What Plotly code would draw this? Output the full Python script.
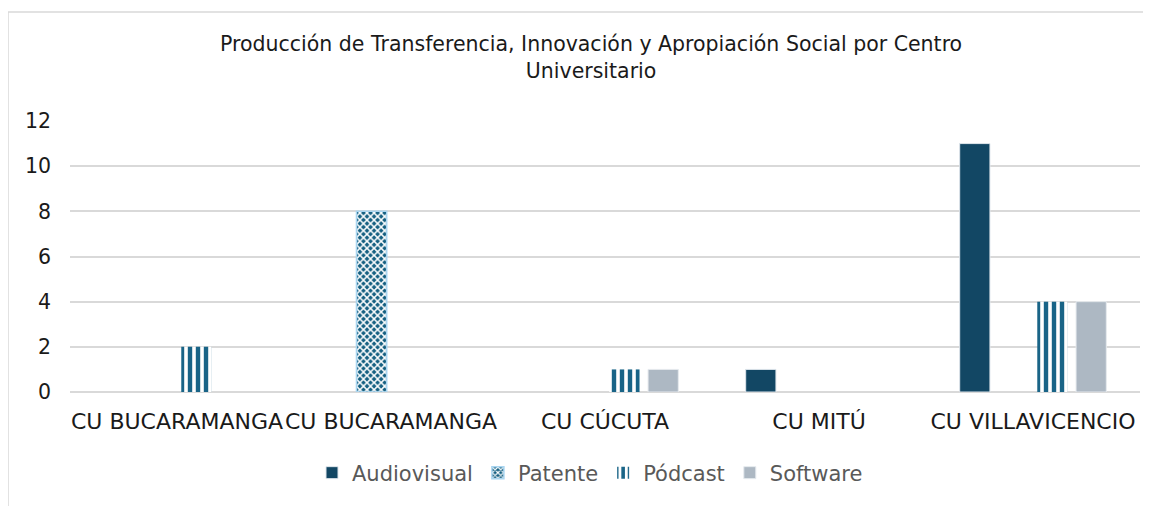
import plotly.graph_objects as go

categories = ["CU BUCARAMANGA", "CU BUCARAMANGA", "CU CÚCUTA", "CU MITÚ", "CU VILLAVICENCIO"]
audiovisual = [None, None, None, 1, 11]
patente = [None, 8, None, None, None]
podcast = [2, None, 1, None, 4]
software = [None, None, 1, None, 4]
y_ticks = [0, 2, 4, 6, 8, 10, 12]
title_lines = ["Producción de Transferencia, Innovación y Apropiación Social por Centro", "Universitario"]

FONT = "DejaVu Sans, Verdana, sans-serif"
OFF = 8  # page body margin
W, H = 1151, 506
# plot area in page pixels
PL, PR, PT, PB = 70, 1140, 121, 392
L, R, T, B = PL - OFF, W - (PR - OFF), PT - OFF, H - (PB - OFF)
pw, ph = PR - PL, PB - PT


def px2x(px):
    return (px - PL) / pw


def px2y(py):
    return (PB - py) / ph


xpos = list(range(len(categories)))

fig = go.Figure()
fig.add_trace(go.Bar(name="Audiovisual", x=xpos, y=audiovisual,
                     marker=dict(color="#124764", line=dict(color="#dfe6ec", width=1))))
fig.add_trace(go.Bar(name="Patente", x=xpos, y=patente,
                     marker=dict(color="#156082", line=dict(color="#a9d5f0", width=1.5),
                                 pattern=dict(shape="x", fgcolor="white", fillmode="overlay",
                                              size=5, solidity=0.5, fgopacity=1))))
fig.add_trace(go.Bar(name="Pódcast", x=xpos, y=podcast,
                     marker=dict(color="#196487", line=dict(color="white", width=0),
                                 pattern=dict(shape="|", fgcolor="white", fillmode="overlay",
                                              size=8, solidity=0.45, fgopacity=1))))
fig.add_trace(go.Bar(name="Software", x=xpos, y=software,
                     marker=dict(color="#adb8c3", line=dict(color="#e6eaee", width=1))))

fig.update_layout(
    width=W, height=H,
    margin=dict(l=L, r=R, t=T, b=B),
    paper_bgcolor="white", plot_bgcolor="white",
    barmode="group", bargap=0.275, bargroupgap=0.22,
    font=dict(family=FONT, color="#1a1a1a"),
    xaxis=dict(tickmode="array", tickvals=xpos, ticktext=categories, tickangle=0,
               range=[-0.5, len(categories) - 0.5], showgrid=False, zeroline=False,
               showline=False, ticks="", ticklabelstandoff=14,
               tickfont=dict(size=22, color="#1a1a1a")),
    yaxis=dict(range=[0, 12], tickvals=y_ticks, showgrid=True, gridcolor="#d9d9d9",
               gridwidth=1.5, zeroline=True, zerolinecolor="#d9d9d9", zerolinewidth=1.5,
               showline=False, ticks="", ticklabelstandoff=18,
               tickfont=dict(size=20.5, color="#1a1a1a")),
    legend=dict(orientation="h", x=px2x(590), xanchor="center", y=px2y(473), yanchor="middle",
                font=dict(family=FONT, size=21, color="#595959"), traceorder="normal",
                itemwidth=30),
    showlegend=True,
)

fig.add_annotation(text="<br>".join(title_lines), xref="paper", yref="paper",
                   x=px2x(591), y=px2y(57.5), xanchor="center", yanchor="middle",
                   showarrow=False, align="center",
                   font=dict(family=FONT, size=20.5, color="#1a1a1a"))

# chart frame (top and left border of the chart area)
fig.add_shape(type="line", xref="paper", yref="paper", x0=px2x(8), x1=px2x(W + 20),
              y0=px2y(12), y1=px2y(12), line=dict(color="#d9d9d9", width=1.5))
fig.add_shape(type="line", xref="paper", yref="paper", x0=px2x(8), x1=px2x(8),
              y0=px2y(12), y1=px2y(H + 20), line=dict(color="#d9d9d9", width=1.5))

fig.write_html("out.html")
